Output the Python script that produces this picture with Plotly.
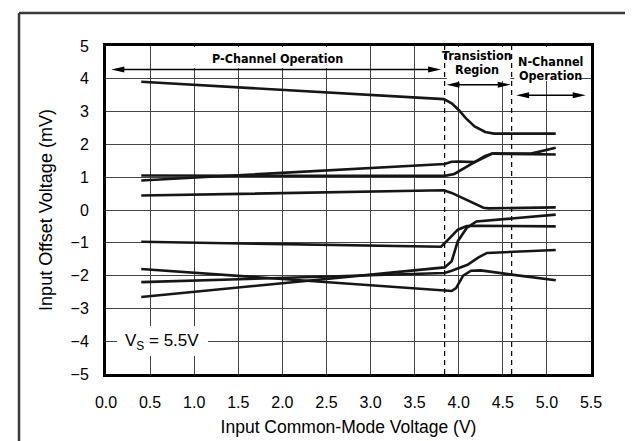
import plotly.graph_objects as go

# ---------------- data ----------------
x_a = [0.40, 3.83, 3.92, 4.00, 4.08, 4.18, 4.30, 4.40, 5.10]
y_a = [3.91, 3.38, 3.25, 3.05, 2.80, 2.55, 2.38, 2.33, 2.33]

x_b1 = [0.40, 3.84, 3.92, 4.00, 4.18, 4.30, 4.38, 4.82, 5.10]
y_b1 = [0.90, 1.40, 1.47, 1.48, 1.46, 1.62, 1.72, 1.72, 1.90]

x_b2 = [0.40, 3.84, 3.95, 4.05, 4.18, 4.30, 4.38, 5.10]
y_b2 = [1.05, 1.04, 1.10, 1.25, 1.47, 1.65, 1.72, 1.69]

x_c = [0.40, 3.83, 3.92, 4.05, 4.18, 4.28, 4.34, 5.10]
y_c = [0.44, 0.60, 0.52, 0.36, 0.18, 0.07, 0.05, 0.08]

x_d = [0.40, 3.80, 3.90, 3.99, 4.09, 4.20, 5.10]
y_d = [-0.97, -1.12, -0.85, -0.60, -0.49, -0.48, -0.50]

x_e = [0.40, 3.84, 3.92, 3.99, 4.09, 4.20, 4.60, 5.10]
y_e = [-2.65, -1.75, -1.56, -0.95, -0.55, -0.35, -0.26, -0.14]

x_f = [0.40, 3.84, 3.92, 4.10, 4.22, 4.32, 5.10]
y_f = [-2.20, -1.92, -1.85, -1.67, -1.45, -1.31, -1.22]

x_g = [0.40, 3.92, 3.97, 4.05, 4.14, 4.25, 4.60, 5.10]
y_g = [-1.80, -2.47, -2.38, -2.00, -1.85, -1.84, -1.97, -2.14]

x_ticks = [0.0, 0.5, 1.0, 1.5, 2.0, 2.5, 3.0, 3.5, 4.0, 4.5, 5.0, 5.5]
x_tick_labels = ["0.0", "0.5", "1.0", "1.5", "2.0", "2.5", "3.0", "3.5", "4.0", "4.5", "5.0", "5.5"]
y_ticks = [5, 4, 3, 2, 1, 0, -1, -2, -3, -4, -5]
y_tick_labels = ["5", "4", "3", "2", "1", "0", "\u22121", "\u22122", "\u22123", "\u22124", "\u22125"]

boundary_x = [3.84, 4.60]  # dashed region boundaries

region_labels = ["P-Channel Operation", "Transistion", "Region", "N-Channel", "Operation"]
region_label_x = [1.95, 4.21, 4.21, 5.04, 5.04]
region_label_y = [4.62, 4.70, 4.27, 4.52, 4.09]

arrow_x0 = [0.06, 3.86, 4.65]
arrow_x1 = [3.80, 4.59, 5.44]
arrow_y = [4.28, 3.82, 3.50]

# white label boxes: x0, x1, y0, y1 (data units)
box_x0 = [0.82, 3.865, 4.63, 0.125]
box_x1 = [2.86, 4.585, 5.35, 1.157]
box_y0 = [4.33, 3.93, 3.93, -4.45]
box_y1 = [4.97, 4.97, 4.97, -3.54]

vs_label = "V<sub>S</sub> = 5.5V"
vs_x, vs_y = 0.64, -4.03

# ---------------- figure ----------------
W, H = 633, 441
ML, MR, MT, MB = 98, 50, 38, 75
XR = [0, 5.5]
YR = [-5, 5]
px_per_x = (W - ML - MR) / (XR[1] - XR[0])
px_per_y = (H - MT - MB) / (YR[1] - YR[0])

fig = go.Figure()
line_style = dict(color="#161616", width=2.6)
for xs, ys in [(x_a, y_a), (x_b1, y_b1), (x_b2, y_b2), (x_c, y_c),
               (x_d, y_d), (x_e, y_e), (x_f, y_f), (x_g, y_g)]:
    fig.add_trace(go.Scatter(x=xs, y=ys, mode="lines", line=line_style,
                             showlegend=False, hoverinfo="skip"))

shapes = []
for x0, x1, y0, y1 in zip(box_x0, box_x1, box_y0, box_y1):
    shapes.append(dict(type="rect", xref="x", yref="y", x0=x0, x1=x1, y0=y0, y1=y1,
                       fillcolor="white", line=dict(width=0), layer="between"))
for bx in boundary_x:
    shapes.append(dict(type="line", xref="x", yref="y", x0=bx, x1=bx, y0=YR[0], y1=YR[1],
                       line=dict(color="black", width=1.2, dash="5px,4px"), layer="between"))
head_len = 13 / px_per_x
head_half = 3 / px_per_y
for x0, x1, ay in zip(arrow_x0, arrow_x1, arrow_y):
    shapes.append(dict(type="line", xref="x", yref="y", x0=x0 + head_len * 0.5, x1=x1 - head_len * 0.5,
                       y0=ay, y1=ay, line=dict(color="black", width=1.5), layer="above"))
    shapes.append(dict(type="path", xref="x", yref="y",
                       path=f"M{x0},{ay} L{x0 + head_len},{ay + head_half} L{x0 + head_len},{ay - head_half} Z",
                       fillcolor="black", line=dict(width=0), layer="above"))
    shapes.append(dict(type="path", xref="x", yref="y",
                       path=f"M{x1},{ay} L{x1 - head_len},{ay + head_half} L{x1 - head_len},{ay - head_half} Z",
                       fillcolor="black", line=dict(width=0), layer="above"))
PW, PH = W - ML - MR, H - MT - MB
fx0, fx1 = (11 - ML) / PW, (624 - ML) / PW
fy_top, fy_bot = (H - MB - 5) / PH, (H - MB - 460) / PH
frame = dict(color="#3a3a3a", width=2.5)
shapes.append(dict(type="line", xref="paper", yref="paper", x0=fx0, x1=fx0, y0=fy_bot, y1=fy_top, line=frame))
shapes.append(dict(type="line", xref="paper", yref="paper", x0=fx0, x1=fx1, y0=fy_top, y1=fy_top, line=frame))
shapes.append(dict(type="line", xref="paper", yref="paper", x0=fx1, x1=fx1, y0=fy_bot, y1=fy_top, line=frame))

annotations = []
bold_font = dict(family="DejaVu Sans Condensed, Liberation Sans Narrow, sans-serif",
                 size=12.5, color="black", weight="bold")
for t, lx, ly in zip(region_labels, region_label_x, region_label_y):
    annotations.append(dict(x=lx, y=ly, xref="x", yref="y", text=f"<b>{t}</b>", showarrow=False,
                            font=bold_font, xanchor="center", yanchor="middle"))
annotations.append(dict(x=vs_x, y=vs_y, xref="x", yref="y", text=vs_label, showarrow=False,
                        font=dict(family="Liberation Sans, Arial, sans-serif", size=17, color="black"),
                        xanchor="center", yanchor="middle"))

grid_color = "#444444"
fig.update_layout(
    width=W, height=H,
    margin=dict(l=ML, r=MR, t=MT, b=MB, pad=0),
    plot_bgcolor="white", paper_bgcolor="white",
    shapes=shapes, annotations=annotations,
    font=dict(family="Liberation Sans, Arial, sans-serif", size=16, color="black"),
    xaxis=dict(range=XR, tickvals=x_ticks, ticktext=x_tick_labels, showgrid=True,
               gridcolor=grid_color, gridwidth=1, zeroline=False, showline=True, linecolor="black",
               linewidth=3, mirror=True, ticks="", ticklabelstandoff=12,
               tickfont=dict(size=16),
               title=dict(text="Input Common-Mode Voltage (V)", standoff=11, font=dict(size=17.5))),
    yaxis=dict(range=YR, tickvals=y_ticks, ticktext=y_tick_labels, showgrid=True,
               gridcolor=grid_color, gridwidth=1, zeroline=False, showline=True, linecolor="black",
               linewidth=3, mirror=True, ticks="", ticklabelstandoff=11,
               tickfont=dict(size=16),
               title=dict(text="Input Offset Voltage (mV)", standoff=14, font=dict(size=18))),
)

fig.write_html("out.html")
